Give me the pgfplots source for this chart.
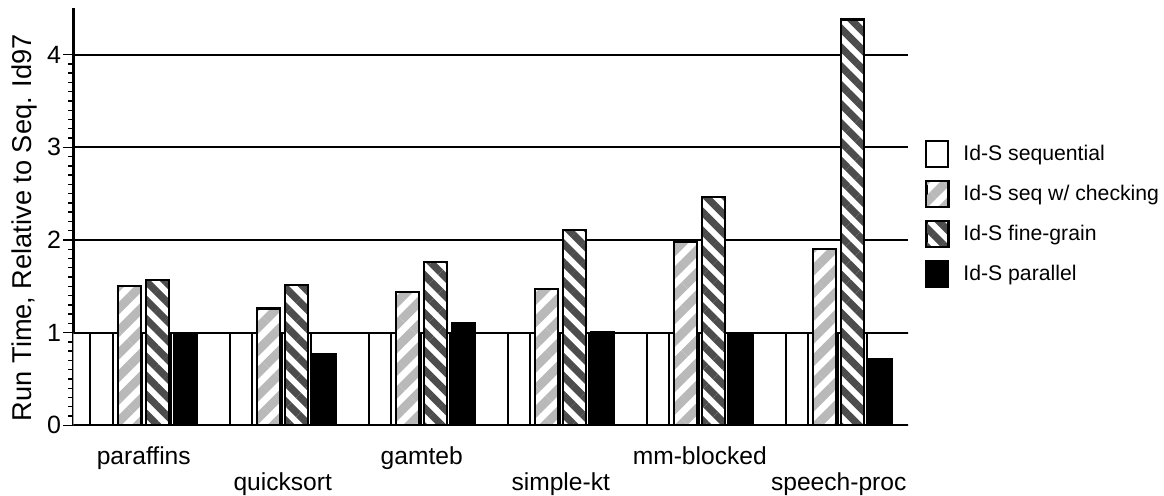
\documentclass[border=0pt]{standalone}
\usepackage{pgfplots}
\pgfplotsset{compat=1.18}
\usepackage{fontspec}
\setmainfont{Liberation Sans}
\usetikzlibrary{patterns.meta}

\pgfplotsset{
  mylegend/.style={legend image code/.code={\draw[##1, line width=1pt] (0pt,-6.5pt) rectangle (11pt,6.5pt);}},
}

\begin{document}
\begin{tikzpicture}
\path[use as bounding box] (-36.75pt,-34.85pt) rectangle (545.25pt,212.65pt);
\begin{axis}[
  at={(0pt,0pt)}, anchor=south west,
  scale only axis, width=417.25pt, height=208.5pt,
  xmin=73.5, xmax=908, ymin=0, ymax=4.5,
  axis x line=bottom, axis y line=left,
  axis line style={-, line width=1.1pt},
  every outer x axis line/.append style={-},
  every outer y axis line/.append style={-},
  ytick={0,1,2,3,4}, minor y tick num=9,
  ymajorgrids, major grid style={black, line width=1pt},
  tick align=outside,
  major tick length=5pt, minor tick length=2.5pt,
  every tick/.style={black, line width=0.7pt},
  /pgf/number format/assume math mode=true,
  y tick label style={font=\fontsize{12.5}{14}\selectfont, inner sep=1pt},
  xtick={143.75,282.75,421.75,560.75,699.75,838.75},
  xticklabels={paraffins,\raisebox{-13.3pt}[0pt][0pt]{quicksort},gamteb,\raisebox{-13.3pt}[0pt][0pt]{simple-kt},mm-blocked,\raisebox{-13.3pt}[0pt][0pt]{speech-proc}},
  x tick label style={font=\fontsize{12.3}{14}\selectfont, anchor=north, inner sep=0pt, text height=9pt, text depth=0pt, yshift=-5.2pt},
  x tick style={draw=none},
  ylabel={Run Time, Relative to Seq. Id97},
  ylabel style={font=\fontsize{13.6}{16}\selectfont, at={(axis description cs:-0.0749,0.4743)}, anchor=north, inner sep=0pt},
  legend style={at={(axis description cs:1.0204,0.6842)}, anchor=north west, draw=none, fill=none, inner sep=0pt, row sep=6pt,
    nodes={inner sep=0pt, font=\fontsize{10.6}{12}\selectfont, anchor=west}},
  legend cell align=left,
  /tikz/every odd column/.append style={column sep=7pt},
]
\addplot[ybar interval, draw=black, line width=1pt, fill=white, mylegend] coordinates {
 (32.5,1) (90.5,1) (113,1) (142.5,1) (171.5,1)
 (229.5,1) (252,1) (281.5,1) (310.5,1)
 (368.5,1) (391,1) (420.5,1) (449.5,1)
 (507.5,1) (530,1) (559.5,1) (588.5,1)
 (646.5,1) (669,1) (698.5,1) (727.5,1)
 (785.5,1) (808,1) (837.5,1) (866.5,1)
 (960,1)};
\addlegendentry{Id-S sequential}
\addplot[ybar, bar width=23, bar shift=0pt, draw=black, line width=1.1pt,
  preaction={fill=white}, pattern={Lines[angle=45,distance=8pt,line width=4.5pt]}, pattern color=gray!55, mylegend] coordinates {
 (129.5,1.50) (268.5,1.26) (407.5,1.44) (546.5,1.47) (685.5,1.98) (824.5,1.90)};
\addlegendentry{Id-S seq w/ checking}
\addplot[ybar, bar width=23, bar shift=0pt, draw=black, line width=1.1pt,
  preaction={fill=white}, pattern={Lines[angle=-45,distance=6.7pt,line width=3.6pt]}, pattern color=black!70, mylegend] coordinates {
 (157.5,1.57) (296.5,1.51) (435.5,1.76) (574.5,2.11) (713.5,2.46) (852.5,4.38)};
\addlegendentry{Id-S fine-grain}
\addplot[ybar, bar width=23.5, bar shift=0pt, draw=black, line width=1.1pt, fill=black, mylegend] coordinates {
 (185.5,1.00) (324.5,0.765) (463.5,1.105) (602.5,1.01) (741.5,0.97) (880.5,0.71)};
\addlegendentry{Id-S parallel}
\end{axis}
\end{tikzpicture}
\end{document}
